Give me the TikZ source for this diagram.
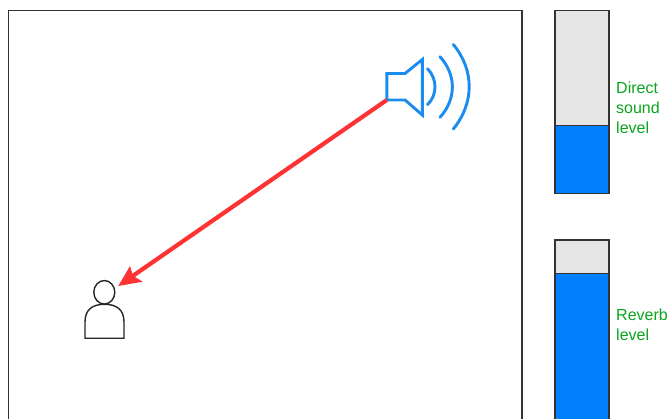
\documentclass[tikz,border=0pt]{standalone}
\usepackage{fontspec}
\usetikzlibrary{shapes.geometric}
\setmainfont{Liberation Sans}
\definecolor{sblue}{HTML}{0080FF}
\definecolor{sline}{HTML}{1A8CF0}
\definecolor{sred}{HTML}{FF3333}
\definecolor{sgreen}{HTML}{0AA51E}
\definecolor{sgrey}{HTML}{E5E5E5}
\definecolor{sdark}{HTML}{333333}
\tikzset{
  framebox/.style={draw=sdark,line width=1.7pt},
  levelbg/.style={draw=sdark,line width=1.7pt,fill=sgrey},
  levelfg/.style={draw=sdark,line width=1.7pt,fill=sblue},
  speakerline/.style={draw=sline,line width=2.9pt,line join=miter},
  waveline/.style={draw=sline,line width=2.9pt,line cap=round},
  personline/.style={draw=black!85,line width=1.4pt,fill=white},
  labeltext/.style={text=sgreen,font=\fontsize{16}{20}\selectfont,align=left,anchor=west,inner sep=0pt}
}
\begin{document}
\begin{tikzpicture}[x=1pt,y=-1pt]
\useasboundingbox (0,0) rectangle (672,419);
\clip (0,0) rectangle (672,419);
\fill[white] (0,0) rectangle (672,419);
% room
\draw[framebox] (8.5,440) -- (8.5,10.5) -- (522,10.5) -- (522,440);
% speaker
\draw[speakerline] (386.8,73.5) -- (405,73.5) -- (422.3,59.5) -- (422.3,115) -- (405,100) -- (386.8,100) -- cycle;
\draw[waveline] (427.5,68.7) .. controls (437.5,79) and (437.5,95) .. (427.5,104.7);
\draw[waveline] (440,56.7) .. controls (456.5,75) and (456.5,99) .. (440,117.3);
\draw[waveline] (453.3,44.5) .. controls (474.5,70) and (474.5,103) .. (453.3,129);
% person
\draw[personline] (85,338.3) -- (85,322) .. controls (85,310) and (92,304.3) .. (104.5,304.3) .. controls (117,304.3) and (124,310) .. (124,322) -- (124,338.3) -- cycle;
\node[personline,ellipse,minimum width=21pt,minimum height=23.5pt,inner sep=0pt] (head) at (104.3,292.3) {};
% arrow
\coordinate (src) at (386.8,100);
\coordinate (tip) at (118.3,286);
\coordinate (neck) at (133,275.8);
\draw[sred,line width=4.2pt] (src) -- (neck);
\fill[sred] (tip) -- (130,266) -- (133,275.8) -- (142.7,281.7) -- cycle;
% bars
\draw[levelbg] (555,10.5) rectangle (609,125.5);
\draw[levelfg] (555,125.5) rectangle (609,193.5);
\draw[levelbg] (555,240) rectangle (609,273.5);
\draw[levelfg] (555,273.5) rectangle (609,440);
% labels
\node[labeltext] (direct) at (616,107.5) {Direct\\sound\\level};
\node[labeltext] (reverb) at (616,325) {Reverb\\level};
\end{tikzpicture}
\end{document}
